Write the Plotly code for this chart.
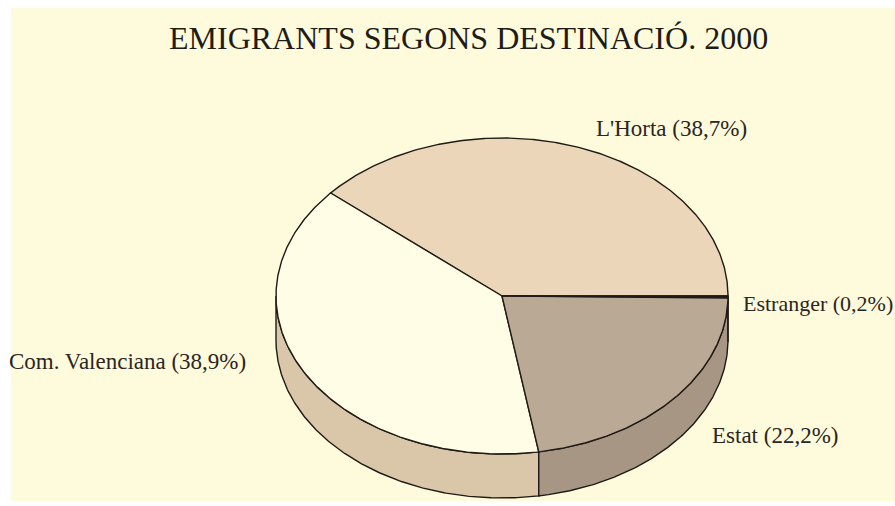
import numpy as np
import plotly.graph_objects as go

# ---- data ----
categories = ["L'Horta", "Com. Valenciana", "Estat", "Estranger"]
values = [38.7, 38.9, 22.2, 0.2]
labels = ["L'Horta (38,7%)", "Com. Valenciana (38,9%)", "Estat (22,2%)", "Estranger (0,2%)"]
title_text = "EMIGRANTS SEGONS DESTINACIÓ. 2000"

# ---- style ----
W, H = 895, 506
cx, cy, rx, ry, depth = 502, 296, 226, 158, 44
top_colors = ["#EBD6B9", "#FFFDE6", "#BAA994", "#B8A792"]
side_colors = ["#D9C5A8", "#DAC6A9", "#A69683", "#A29280"]
edge = "#1E1A16"
font_fam = "Liberation Serif, Times New Roman, serif"
# label placement: (xanchor, dx, dy, size) relative to ellipse point at mid-angle
label_style = [("left", 13, -19, 23), ("right", -57, -12, 23), ("left", 37, 37, 23), ("left", 13, 7, 22)]

fig = go.Figure()

total = sum(values)
bounds = np.concatenate([[0], np.cumsum(values) / total * 360.0])

def pt(t_deg, dz=0.0):
    t = np.radians(t_deg)
    return cx + rx * np.cos(t), cy - ry * np.sin(t) + dz

# side faces (visible front half: 180..360 degrees)
for i in range(len(values)):
    a, b = max(bounds[i], 180.0), min(bounds[i + 1], 360.0)
    if b <= a:
        continue
    ts = np.linspace(a, b, max(4, int((b - a) * 2)))
    xt, yt = pt(ts)
    xb, yb = pt(ts[::-1], depth)
    xs = np.concatenate([xt, xb, xt[:1]])
    ys = np.concatenate([yt, yb, yt[:1]])
    fig.add_trace(go.Scatter(x=xs, y=ys, mode="lines", fill="toself",
                             fillcolor=side_colors[i],
                             line=dict(color=edge, width=1.4),
                             hoverinfo="skip", showlegend=False))

# top slices
for i in range(len(values)):
    a, b = bounds[i], bounds[i + 1]
    ts = np.linspace(a, b, max(4, int((b - a) * 2)))
    xa, ya = pt(ts)
    xs = np.concatenate([[cx], xa, [cx]])
    ys = np.concatenate([[cy], ya, [cy]])
    fig.add_trace(go.Scatter(x=xs, y=ys, mode="lines", fill="toself",
                             fillcolor=top_colors[i],
                             line=dict(color=edge, width=1.4),
                             hoverinfo="skip", showlegend=False))

# labels
for i in range(len(values)):
    mid = (bounds[i] + bounds[i + 1]) / 2
    px, py = pt(mid)
    anc, dx, dy, fs = label_style[i]
    fig.add_annotation(x=px + dx, y=py + dy, text=labels[i], showarrow=False,
                       xanchor=anc, yanchor="middle",
                       font=dict(family=font_fam, size=fs, color="#2A2622"))

fig.add_annotation(x=468, y=38, text=title_text, showarrow=False,
                   xanchor="center", yanchor="middle",
                   font=dict(family=font_fam, size=32, color="#1F1B17"))

fig.add_shape(type="rect", x0=11, x1=W, y0=8, y1=501, layer="below",
              line=dict(width=0), fillcolor="#FEFADC")

fig.update_layout(
    width=W, height=H, autosize=False,
    margin=dict(l=0, r=0, t=0, b=0),
    paper_bgcolor="white", plot_bgcolor="white",
    xaxis=dict(range=[0, W], visible=False, fixedrange=True),
    yaxis=dict(range=[H, 0], visible=False, fixedrange=True),
    showlegend=False,
)

fig.write_html("out.html", config={"displayModeBar": False},
               post_script="document.body.style.margin='0';document.body.style.overflow='hidden';")
